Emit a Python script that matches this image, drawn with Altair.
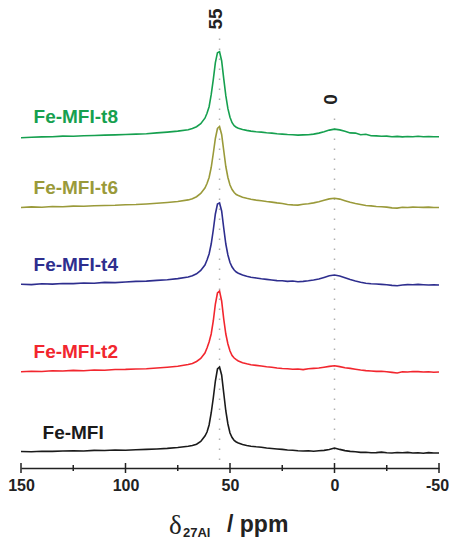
import altair as alt
import pandas as pd

# chemical shift grid (ppm)
X_PPM = [150, 145, 140, 135, 130, 125, 120, 115, 110, 105, 100, 95, 90, 85, 80, 75, 70,
         68, 66, 64, 62, 61, 60, 59, 58, 57, 56, 55, 54, 53, 52, 51, 50, 49, 48, 47, 46, 44, 42, 40,
         37.5, 35, 32.5, 30, 27.5, 25, 22.5, 20, 17.5, 15, 12.5, 10, 7.5, 5, 2.5, 0,
         -2.5, -5, -7.5, -10, -12.5, -15, -17.5, -20, -22.5, -25, -27.5, -30, -32.5, -35,
         -37.5, -40, -42.5, -45, -47.5, -50]

SERIES = ["Fe-MFI", "Fe-MFI-t2", "Fe-MFI-t4", "Fe-MFI-t6", "Fe-MFI-t8"]
COLORS = ["#1a1a1a", "#f2262e", "#2e2e8e", "#9a9a3a", "#16a04f"]
OFFSETS = [15, 96, 183, 260.5, 331.3]

I_FE_MFI = [1.5, 1.3, 1.8, 1.6, 2.0, 2.2, 2.0, 2.6, 2.5, 3.0, 2.8, 3.3, 3.6, 4.0, 4.6, 5.5, 6.8,
            7.5, 8.8, 11.5, 17, 21, 28, 40, 55, 72, 84, 86, 78, 60, 42, 29, 20, 15.5, 12.5, 11, 10, 8.5, 7.5, 6.8,
            6.2, 5.8, 5.0, 4.5, 4.0, 3.6, 3.0, 2.8, 2.2, 2.0, 2.3, 1.8, 2.2, 2.6, 3.5, 5.0,
            3.6, 2.4, 1.6, 1.2, 0.6, 0.8, 0.2, 0.4, 0.9, 0.3, 0.0, 0.5, 0.2, 0.6, 0.0, 0.3, -0.2, 0.4, 0.0, 0.0]
I_T2 = [0.2, 0.8, 0.5, 1.2, 1.0, 1.6, 1.3, 2.0, 1.8, 2.5, 2.6, 3.0, 3.3, 4.0, 4.8, 5.8, 7.5,
        8.6, 10.5, 13.5, 19, 24, 30, 38, 51, 68, 79, 81, 71, 53, 38, 28, 21, 16.5, 14, 12.3, 11, 9.3, 8.2, 7.3,
        6.6, 6.0, 5.2, 4.8, 4.0, 3.5, 3.2, 2.8, 3.0, 2.4, 3.2, 3.6, 4.0, 4.8, 5.6, 6.2,
        5.4, 4.3, 3.6, 2.8, 2.0, 1.4, 1.0, 0.6, 0.8, 0.2, -0.4, -1.0, 0.2, 0.0, 0.5, 0.4, 0.0, 0.2, -0.2, 0.0]
I_T4 = [0.7, 0.4, 1.2, 0.9, 1.5, 1.4, 2.0, 1.8, 2.6, 2.4, 3.0, 3.6, 3.9, 4.6, 5.2, 6.4, 8.0,
        9.2, 11.2, 14.5, 20, 25, 31, 41, 55, 71, 81, 82, 74, 57, 41, 30, 22.5, 18, 15, 13, 11.8, 10, 8.8, 7.8,
        7.0, 6.2, 5.6, 5.0, 4.4, 4.2, 3.6, 4.0, 3.2, 3.6, 4.2, 5.0, 6.0, 7.6, 9.2, 10.0,
        9.0, 7.2, 5.4, 4.0, 2.8, 1.8, 1.2, 1.0, 0.6, 0.2, -0.4, -0.8, 0.0, 0.4, 0.2, 0.6, 0.3, 0.0, 0.2, 0.0]
I_T6 = [0.0, 0.6, 0.3, 1.0, 0.8, 1.4, 1.2, 1.8, 2.0, 2.2, 2.8, 3.0, 3.5, 4.2, 5.0, 6.0, 7.6,
        8.8, 10.8, 14, 19.5, 24, 30, 40, 54, 69, 79, 81, 73, 57, 41, 30, 22.5, 18, 15, 13, 12, 10.3, 9.2, 8.2,
        7.4, 6.8, 6.0, 5.4, 4.6, 4.0, 3.0, 2.6, 2.4, 3.2, 3.8, 4.6, 5.8, 7.2, 8.6, 9.2,
        8.4, 6.8, 5.2, 4.0, 3.0, 2.0, 1.6, 1.0, 0.8, 0.4, -0.4, -0.6, 0.2, 0.0, 0.4, 0.3, 0.1, 0.4, 0.0, 0.0]
I_T8 = [-1.0, -0.6, -0.2, 0.0, 0.6, 0.4, 1.0, 1.2, 1.6, 1.8, 2.2, 2.6, 3.0, 3.8, 4.6, 5.6, 7.0,
        8.2, 10, 13, 18.5, 23.5, 30, 42, 57, 74, 84, 85, 76, 58, 41, 28, 19.5, 14, 11, 9.5, 8.5, 7.2, 6.3, 5.6,
        5.0, 4.6, 4.0, 3.6, 3.0, 2.6, 2.2, 2.0, 1.6, 1.8, 2.0, 2.6, 3.6, 5.0, 6.6, 7.6,
        6.8, 5.4, 3.8, 3.6, 2.0, 2.4, 1.0, 0.8, 0.4, 0.6, 0.0, 0.3, -0.2, 0.2, 0.0, 0.4, 0.0, 0.2, 0.0, 0.0]
INTENSITIES = [I_FE_MFI, I_T2, I_T4, I_T6, I_T8]

REF_PPM = [55, 0]
REF_LABELS = ["55", "0"]
REF_TOP = [430, 356]
REF_LABEL_Y = [449, 368.5]

MAJOR_TICKS = [150, 100, 50, 0, -50]
MINOR_TICKS = [125, 75, 25, -25]

LABEL_X = [139.7, 144, 144, 144, 144]

W, H = 418, 463
FONT = "Liberation Sans"

for v in INTENSITIES:
    assert len(v) == len(X_PPM), len(v)

rows = []
for name, off, vals in zip(SERIES, OFFSETS, INTENSITIES):
    for x, v in zip(X_PPM, vals):
        rows.append({"ppm": x, "y": v + off, "series": name})
df = pd.DataFrame(rows)

xscale = alt.Scale(domain=[150, -50], nice=False, zero=False)
yscale = alt.Scale(domain=[0, H], nice=False, zero=False)
color = alt.Color("series:N", scale=alt.Scale(domain=SERIES, range=COLORS), legend=None)

ref_df = pd.DataFrame({"ppm": REF_PPM, "top": REF_TOP, "bot": [8, 8],
                       "label": REF_LABELS, "ly": REF_LABEL_Y})
refs = alt.Chart(ref_df).mark_rule(strokeDash=[1.5, 8.5], color="#b0b0b0", strokeWidth=1.5).encode(
    x=alt.X("ppm:Q", scale=xscale, axis=alt.Axis(
        values=MAJOR_TICKS, title=None, ticks=False,
        domainColor="#222", domainWidth=1.5,
        labelFont=FONT, labelFontWeight="bold",
        labelFontSize=16, labelColor="#222",
        labelPadding=9, grid=False, labelFlush=False,
        labelExpr="datum.value < 0 ? '-' + abs(datum.value) : '' + datum.value",
        labelOffset={"condition": {"test": "datum.value == -50", "value": -2}, "value": 0})),
    y=alt.Y("bot:Q", scale=yscale, axis=None),
    y2="top:Q",
)
ref_text = alt.Chart(ref_df).mark_text(angle=270, fontSize=19, fontWeight="bold", font=FONT,
                                       align="center", baseline="middle", dy=-4, color="#222").encode(
    x=alt.X("ppm:Q", scale=xscale),
    y=alt.Y("ly:Q", scale=yscale),
    text="label:N",
)

lines = alt.Chart(df).mark_line(strokeWidth=1.6).encode(
    x=alt.X("ppm:Q", scale=xscale),
    y=alt.Y("y:Q", scale=yscale),
    color=color,
)

lab_df = pd.DataFrame({"series": SERIES, "lx": LABEL_X, "ly": [o + 20 for o in OFFSETS]})
labels = alt.Chart(lab_df).mark_text(align="left", baseline="middle", fontSize=19,
                                     fontWeight="bold", font=FONT).encode(
    x=alt.X("lx:Q", scale=xscale),
    y=alt.Y("ly:Q", scale=yscale),
    text="series:N",
    color=color,
)

major = alt.Chart(pd.DataFrame({"ppm": MAJOR_TICKS})).mark_rule(color="#222", strokeWidth=1.5).encode(
    x=alt.X("ppm:Q", scale=xscale), y=alt.value(H - 5), y2=alt.value(H + 5))
minor = alt.Chart(pd.DataFrame({"ppm": MINOR_TICKS})).mark_rule(color="#222", strokeWidth=1.5).encode(
    x=alt.X("ppm:Q", scale=xscale), y=alt.value(H - 3), y2=alt.value(H + 3))

one = pd.DataFrame({"a": [0]})
t_delta = alt.Chart(one).mark_text(text="δ", font="Liberation Serif", fontSize=27, align="left",
                                   baseline="alphabetic", color="#222").encode(
    x=alt.value(148), y=alt.value(529))
t_sub = alt.Chart(one).mark_text(text="27Al", font=FONT, fontSize=13, fontWeight="bold", align="left",
                                 baseline="alphabetic", color="#222").encode(
    x=alt.value(162), y=alt.value(532))
t_ppm = alt.Chart(one).mark_text(text="/ ppm", font=FONT, fontSize=23, fontWeight="bold", align="left",
                                 baseline="alphabetic", color="#222").encode(
    x=alt.value(206), y=alt.value(527))

chart = alt.layer(refs, ref_text, lines, labels, major, minor, t_delta, t_sub, t_ppm).properties(
    width=W, height=H,
    padding={"left": 21, "top": 5, "right": 10, "bottom": 71},
    autosize=alt.AutoSizeParams(type="none"),
    background="white",
).configure_view(stroke=None)

chart.save("out.html", embed_options={"renderer": "svg", "actions": False})
